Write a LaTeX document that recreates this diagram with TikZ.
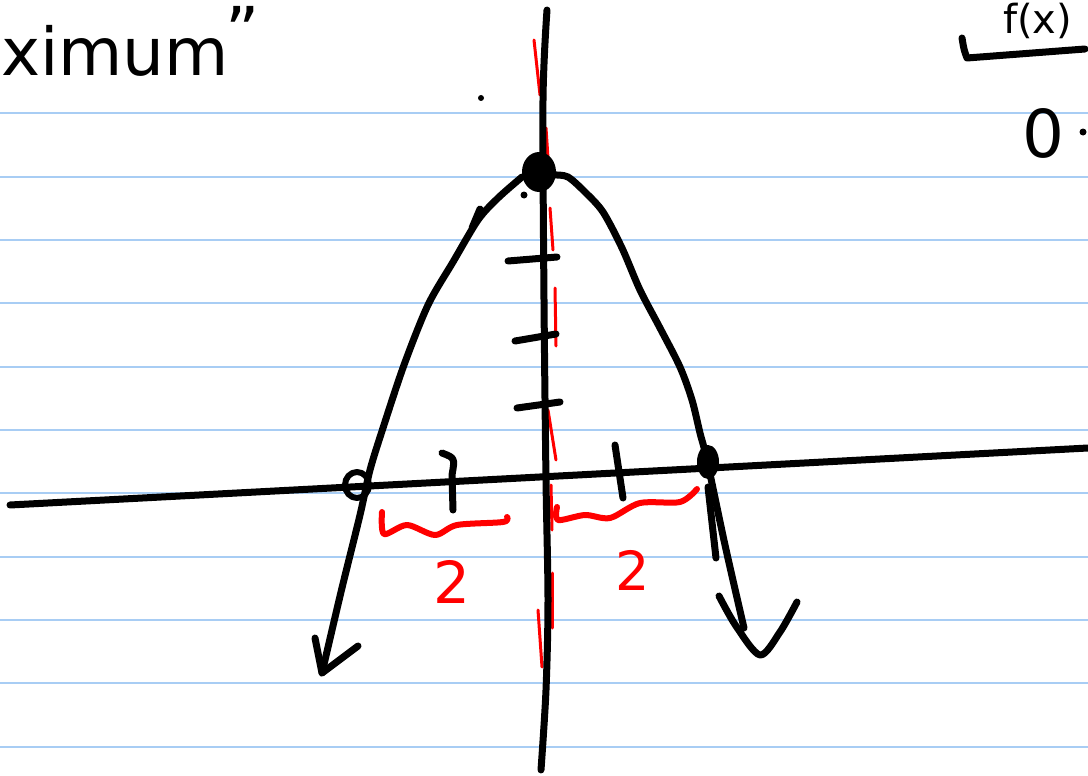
\documentclass[tikz,border=0pt]{standalone}
\usepackage{fontspec}
\setsansfont{DejaVu Sans}
\usepackage{tikz}
\usetikzlibrary{positioning}
\usepackage{xcolor}
\definecolor{ruleblue}{HTML}{A8CDF4}
\definecolor{penred}{HTML}{FF0000}

\begin{document}
\begin{tikzpicture}[x=1pt,y=-1pt,
    ink/.style={line width=7pt,line cap=round,line join=round},
    redink/.style={ink,color=penred,line width=6pt},
    guide/.style={color=penred,line width=3pt,line cap=round},
    hand/.style={font=\sffamily\fontsize{66}{66}\selectfont,inner sep=0pt}]
    \useasboundingbox (0,0) rectangle (1088,776);
    \clip (0,0) rectangle (1088,776);
    \fill[white] (0,0) rectangle (1088,776);

    % ruled paper
    \foreach \k in {0,...,10} {
        \draw[ruleblue, line width=2pt] (0,113.5+63.3*\k) -- (1088,113.5+63.3*\k);
    }

    % red axis of symmetry, drawn in pieces
    \foreach \a/\b/\c/\d in {534/40/540/95, 546/128/548/158, 550/208/553/250, 555/288/556/346,
                             548/410/556/460, 551/485/552/530, 552/573/552/628, 538/610/542/667} {
        \draw[guide] (\a,\b) -- (\c,\d);
    }

    % axes
    \draw[ink] (10,505) -- (1088,448);
    \draw[ink] plot[smooth] coordinates {(547,10) (543,100) (544,300) (546,480) (548,600) (546,690) (541,770)};

    % ticks on the y axis and the x axis
    \foreach \a/\b/\c/\d in {508/261/557/257, 515/341/556/334, 517/408/560/402} {
        \draw[ink] (\a,\b) -- (\c,\d);
    }
    \draw[ink] (442,453) .. controls (455,458) .. (452,475) -- (453,510);
    \draw[ink] (615,445) -- (623,498);

    % parabola with hand drawn arrow ends
    \draw[ink] plot[smooth] coordinates {(522,177) (498,198) (478,220) (453,262) (428,305)
        (404,365) (383,428) (370,470) (360,515) (341,592) (322,673)};
    \draw[ink] (480,209) -- (472,228);
    \draw[ink] (315,638) -- (322,673) -- (358,646);
    \draw[ink] plot[smooth] coordinates {(555,175) (568,177) (585,192) (603,212) (622,248)
        (640,290) (660,328) (680,367) (692,400) (700,433) (707,460) (725,545) (744,628)};
    \draw[ink] (708,487) -- (716,558);
    \draw[ink] plot[smooth] coordinates {(719,596) (736,626) (760,655) (780,632) (797,602)};

    % marked points
    \fill (539,172) ellipse (17 and 20);
    \draw[ink, line width=6pt] (357,485) ellipse (12 and 13);
    \fill (708,462) ellipse (11 and 17);
    \fill (481,98) circle (3);
    \fill (524,195) circle (3.5);

    % red braces
    \draw[redink] plot[smooth] coordinates {(382,512) (384,534) (407,525) (435,535) (457,525) (503,522) (507,517)};
    \draw[redink] plot[smooth] coordinates {(557,507) (558,520) (585,515) (610,518) (640,503) (680,502) (697,489)};
    \node[hand, text=penred, font=\sffamily\fontsize{58}{58}\selectfont] (leftgap) at (452,582) {2};
    \node[hand, text=penred, font=\sffamily\fontsize{54}{54}\selectfont] (rightgap) at (633,570) {2};

    % notes at the edges
    \node[hand, anchor=base west] (maxword) at (1,76) {ximum};
    \node[hand] (maxquote) at (243,30) {”};
    \node[hand, anchor=base west, font=\sffamily\fontsize{40}{40}\selectfont] (fofx) at (1003,34) {f(x)};
    \draw[ink] (962,38) .. controls (964,50) .. (967,58) -- (1085,49);
    \node[hand] (zero) at (1043,133) {0};
    \fill (1083,132) circle (3.5);
\end{tikzpicture}
\end{document}
